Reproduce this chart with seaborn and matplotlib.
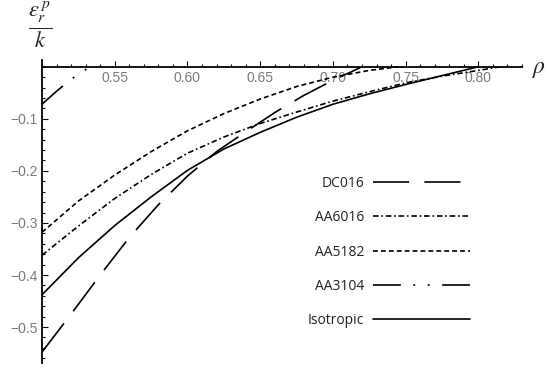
import matplotlib.pyplot as plt
import numpy as np
import seaborn as sns
from matplotlib.ticker import MultipleLocator, FixedLocator

sns.set_theme(style="white")
plt.rcParams["lines.scale_dashes"] = False
plt.rcParams["mathtext.fontset"] = "stix"

# values
rho_iso = [0.500, 0.525, 0.550, 0.575, 0.600, 0.625, 0.650, 0.675, 0.700, 0.725, 0.750, 0.775, 0.800]
eps_iso = [-0.438, -0.367, -0.305, -0.250, -0.199, -0.158, -0.126, -0.097, -0.072, -0.052, -0.034, -0.017, 0.000]

rho_dc016 = [0.500, 0.520, 0.540, 0.560, 0.580, 0.600, 0.620, 0.640, 0.660, 0.680, 0.700, 0.720]
eps_dc016 = [-0.548, -0.475, -0.400, -0.328, -0.265, -0.210, -0.163, -0.125, -0.088, -0.055, -0.026, 0.000]

rho_aa5182 = [0.500, 0.525, 0.550, 0.575, 0.600, 0.625, 0.650, 0.675, 0.700, 0.725, 0.745]
eps_aa5182 = [-0.318, -0.258, -0.208, -0.163, -0.123, -0.090, -0.062, -0.038, -0.020, -0.007, 0.000]

rho_aa6016 = [0.500, 0.525, 0.550, 0.575, 0.600, 0.625, 0.650, 0.675, 0.700, 0.725, 0.750, 0.775, 0.800, 0.815]
eps_aa6016 = [-0.362, -0.306, -0.253, -0.207, -0.166, -0.135, -0.109, -0.087, -0.066, -0.048, -0.031, -0.018, -0.007, 0.000]

rho_aa3104 = [0.500, 0.510, 0.520, 0.533]
eps_aa3104 = [-0.072, -0.047, -0.024, 0.000]

series = [
    ("DC016", rho_dc016, eps_dc016, (0, (26, 11))),
    ("AA6016", rho_aa6016, eps_aa6016, (0, (4, 2, 1.2, 2))),
    ("AA5182", rho_aa5182, eps_aa5182, (0, (3.5, 2.2))),
    ("AA3104", rho_aa3104, eps_aa3104, (0, (20, 9, 1.4, 9, 1.4, 9))),
    ("Isotropic", rho_iso, eps_iso, "-"),
]

fig = plt.figure(figsize=(5.5, 3.71), dpi=100)
ax = fig.add_axes([42 / 550, 8 / 371, 480 / 550, 303 / 371])

for name, x, y, ls in series:
    sns.lineplot(x=x, y=y, ax=ax, color="black", linewidth=1.2,
                 linestyle=ls, label=name, sort=False)

ax.set_xlim(0.5, 0.83)
ax.set_ylim(-0.569, 0.013)

# Mathematica-like axes crossing at (0.5, 0)
for side in ("top", "right"):
    ax.spines[side].set_visible(False)
ax.spines["left"].set_position(("data", 0.5))
ax.spines["bottom"].set_position(("data", 0.0))
for side in ("left", "bottom"):
    ax.spines[side].set_color("black")
    ax.spines[side].set_linewidth(1.3)

ax.xaxis.set_major_locator(FixedLocator(np.arange(0.55, 0.801, 0.05)))
ax.xaxis.set_minor_locator(MultipleLocator(0.01))
ax.yaxis.set_major_locator(FixedLocator(np.arange(-0.5, -0.09, 0.1)))
ax.yaxis.set_minor_locator(MultipleLocator(0.02))
ax.xaxis.set_major_formatter(plt.FormatStrFormatter("%.2f"))
ax.yaxis.set_major_formatter(plt.FuncFormatter(lambda v, _: f"{v:.1f}".replace("-", "\u2212")))

ax.tick_params(which="both", direction="in", color="black", width=0.8,
               labelsize=10, labelcolor="#7a7a7a", left=True, bottom=True)
ax.tick_params(which="major", length=4.5, pad=3)
ax.tick_params(which="minor", length=2.5)
for lab in ax.get_xticklabels() + ax.get_yticklabels():
    lab.set_fontfamily("Liberation Sans")
ax.grid(False)

ax.set_xlabel(r"$\rho$", fontsize=17)
ax.xaxis.set_label_coords(1.035, 0.975)
ax.xaxis.label.set_va("center")
ax.set_ylabel(r"$\frac{\varepsilon_r^{\,p}}{k}$", fontsize=23, rotation=0)
ax.yaxis.set_label_coords(-0.005, 1.115)
ax.yaxis.label.set_va("center")

handles = ax.get_lines()[:len(series)]
leg = ax.legend(handles, [s[0] for s in series], loc="center left",
                bbox_to_anchor=(255 / 480, (363 - 252) / 303), frameon=False,
                markerfirst=False, handlelength=7.0, handletextpad=0.6,
                labelspacing=1.38, borderpad=0.3,
                prop={"family": "Open Sans", "size": 10})
for t in leg.get_texts():
    t.set_color("#222222")

fig.savefig("out.png", dpi=100)
plt.close(fig)
